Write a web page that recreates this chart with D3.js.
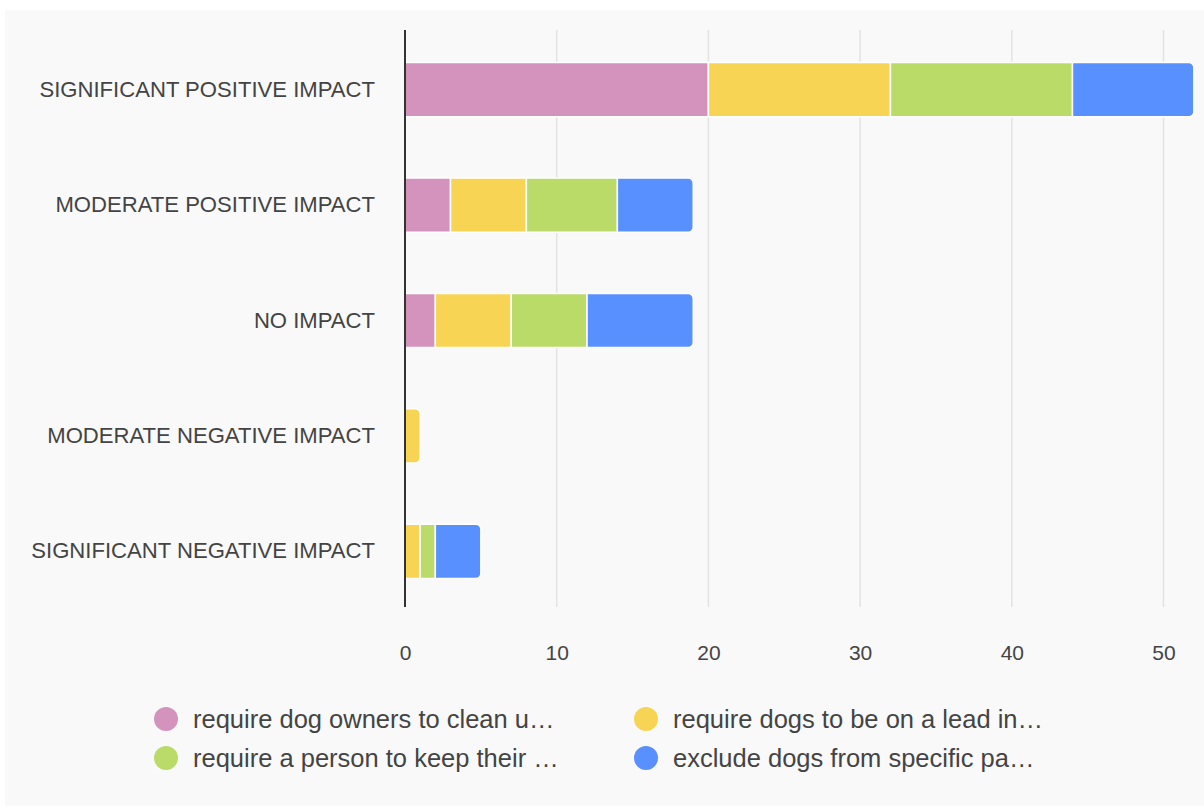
<!DOCTYPE html>
<html>
<head>
<meta charset="utf-8">
<script src="https://cdn.jsdelivr.net/npm/d3@7"></script>
<style>
  body { margin: 0; background: #fff; }
  svg text { font-family: "Liberation Sans", Arial, sans-serif; fill: #444; }
</style>
</head>
<body>
<div class="chart"></div>
<script>
// data
var categories = ["SIGNIFICANT POSITIVE IMPACT", "MODERATE POSITIVE IMPACT", "NO IMPACT",
                  "MODERATE NEGATIVE IMPACT", "SIGNIFICANT NEGATIVE IMPACT"];
var seriesKeys = ["clean", "lead", "control", "exclude"];
var seriesNames = ["require dog owners to clean u\u2026", "require dogs to be on a lead in\u2026",
                   "require a person to keep their \u2026", "exclude dogs from specific pa\u2026"];
var cleanUp  = [20, 3, 2, 0, 0];
var onLead   = [12, 5, 5, 1, 1];
var control  = [12, 6, 5, 0, 1];
var exclude  = [8, 5, 7, 0, 3];
var xTicks = [0, 10, 20, 30, 40, 50];
var colors = ["#d493bd", "#f8d454", "#badb67", "#5890ff"];

var rows = categories.map(function(c, i) {
  return {cat: c, clean: cleanUp[i], lead: onLead[i], control: control[i], exclude: exclude[i]};
});

var stack = d3.stack().keys(seriesKeys);
var layers = stack(rows);

// graph
var W = 1204, H = 809;
var margin = {left: 405, top: 30, bottom: 607};

var svg = d3.select(".chart").append("svg")
    .attr("width", W)
    .attr("height", H);

svg.append("rect")
    .attr("x", 5).attr("y", 10)
    .attr("width", W - 5).attr("height", 796)
    .attr("fill", "#f9f9f9");

var x = d3.scaleLinear()
    .domain([0, 52])
    .range([margin.left, margin.left + 52 * 15.17]);

var y = d3.scaleBand()
    .domain(categories)
    .range([32, 609])
    .paddingInner(0.53)
    .paddingOuter(0.265);

var z = d3.scaleOrdinal().domain(seriesKeys).range(colors);

// gridlines
svg.append("g")
  .selectAll("line")
  .data(xTicks.filter(function(d) { return d > 0; }))
  .enter().append("line")
    .attr("x1", function(d) { return x(d); })
    .attr("x2", function(d) { return x(d); })
    .attr("y1", margin.top)
    .attr("y2", margin.bottom)
    .attr("stroke", "#e3e3e3")
    .attr("stroke-width", 1.5);

// x axis labels
var xAxis = svg.append("g")
    .attr("transform", "translate(0,605)")
    .call(d3.axisBottom(x).tickValues(xTicks).tickSize(0).tickPadding(40));
xAxis.select(".domain").remove();
xAxis.selectAll("text")
    .style("font-size", "21px")
    .attr("fill", "#444");

// y labels
var yAxis = svg.append("g")
    .attr("transform", "translate(" + margin.left + ",0)")
    .call(d3.axisLeft(y).tickSize(0).tickPadding(30));
yAxis.select(".domain").remove();
yAxis.selectAll("text")
    .style("font-size", "22.1px")
    .attr("fill", "#444");

// last non-zero segment of each row gets rounded right end
function lastKey(r) {
  var k = null;
  seriesKeys.forEach(function(s) { if (r[s] > 0) k = s; });
  return k;
}

function segPath(d, key) {
  var x0 = x(d[0]), x1 = x(d[1]), y0 = y(d.data.cat), h = y.bandwidth();
  var r = (lastKey(d.data) === key) ? Math.min(5, (x1 - x0)) : 0;
  return "M" + x0 + "," + y0 +
    "H" + (x1 - r) +
    (r ? "A" + r + "," + r + " 0 0 1 " + x1 + "," + (y0 + r) : "") +
    "V" + (y0 + h - r) +
    (r ? "A" + r + "," + r + " 0 0 1 " + (x1 - r) + "," + (y0 + h) : "") +
    "H" + x0 + "Z";
}

svg.selectAll(".layer")
    .data(layers)
  .enter().append("g")
    .attr("class", "layer")
    .attr("fill", function(d) { return z(d.key); })
  .each(function(layer) {
    d3.select(this).selectAll("path")
        .data(layer.filter(function(d) { return d[1] - d[0] > 0; }))
      .enter().append("path")
        .attr("d", function(d) { return segPath(d, layer.key); })
        .attr("stroke", "#fff")
        .attr("stroke-width", 1.5);
  });

// zero line
svg.append("line")
    .attr("x1", x(0)).attr("x2", x(0))
    .attr("y1", margin.top).attr("y2", margin.bottom)
    .attr("stroke", "#333")
    .attr("stroke-width", 2);

// legend
var legendPos = [[166, 719], [646, 719], [166, 758], [646, 758]];
var legend = svg.append("g").selectAll("g")
    .data(seriesNames)
  .enter().append("g")
    .attr("transform", function(d, i) { return "translate(" + legendPos[i][0] + "," + legendPos[i][1] + ")"; });

legend.append("circle")
    .attr("r", 12)
    .attr("fill", function(d, i) { return colors[i]; });

legend.append("text")
    .attr("x", 27)
    .attr("dy", "0.35em")
    .style("font-size", "25.5px")
    .text(function(d) { return d; });
</script>
</body>
</html>
